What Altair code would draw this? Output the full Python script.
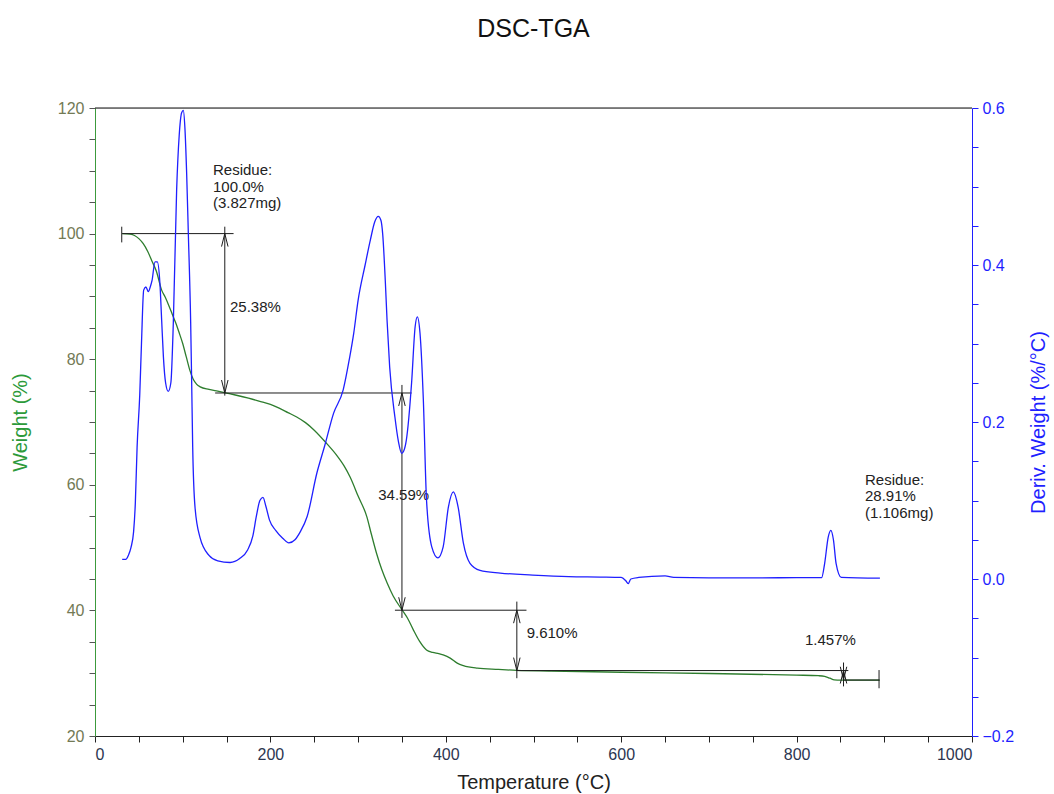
import altair as alt
import pandas as pd

# ---------------- TGA curve: weight (%) vs temperature (°C) ----------------
tga_temp = [31, 40, 45, 50, 55, 60, 65, 70, 76, 80, 84, 88, 92, 96, 100, 104, 108,
            112, 116, 120, 130, 140, 150, 160, 175, 190, 200, 210, 220, 230, 240,
            250, 264, 275, 284, 291, 300, 310, 315, 321, 327, 333, 340, 350, 357,
            363, 370, 378, 385, 392, 397, 405, 413, 420, 436, 460, 481, 520, 600,
            700, 800, 825, 832, 838, 843, 850, 895]
tga_weight = [100.0, 99.9, 99.7, 99.2, 98.4, 97.2, 95.6, 94.0, 91.0, 89.9, 88.6,
              87.2, 85.8, 84.2, 82.5, 80.4, 78.3, 76.8, 76.0, 75.6, 75.2, 74.9,
              74.6, 74.3, 73.8, 73.2, 72.8, 72.2, 71.5, 70.8, 69.9, 68.7, 66.6,
              64.8, 63.0, 61.2, 58.2, 54.9, 52.2, 49.1, 46.5, 44.4, 42.3, 40.1,
              38.6, 36.9, 35.1, 33.7, 33.3, 33.1, 32.9, 32.4, 31.6, 31.2, 30.8,
              30.6, 30.45, 30.35, 30.15, 29.95, 29.7, 29.6, 29.5, 29.2, 28.95,
              28.9, 28.91]

# ---------------- DTG curve: derivative weight (%/°C) ----------------
dtg_temp = [31, 35, 38, 41, 44, 46, 48, 51, 53, 55.5, 58, 60.8, 63, 65, 68.4, 71,
            74, 76, 78, 80.5, 83.5, 86.5, 89.3, 93.1, 96, 98.8, 100.7, 102.5,
            104.5, 106.4, 109.1, 110.2, 111.4, 114, 119.7, 130, 140, 154, 165, 174,
            180, 184, 188, 191.5, 195, 199, 206, 214, 221, 228, 234, 242, 253, 262,
            272, 283, 290, 295, 300, 308, 314, 319, 323, 326, 328, 331, 333, 336,
            342, 346, 349.7, 352, 355, 361, 365, 367.5, 370.6, 374.4, 378, 384,
            391, 397, 403, 408.6, 414, 420, 427.6, 439, 462, 499, 540, 576, 600,
            605, 608, 611, 620, 650, 660, 700, 760, 800, 828.5, 832, 836, 839, 842,
            845, 851, 895]
dtg_value = [0.025, 0.025, 0.030, 0.040, 0.060, 0.097, 0.168, 0.234, 0.300, 0.368,
             0.372, 0.366, 0.372, 0.380, 0.404, 0.404, 0.377, 0.330, 0.283, 0.250,
             0.239, 0.250, 0.326, 0.496, 0.565, 0.594, 0.597, 0.575, 0.517, 0.441,
             0.326, 0.253, 0.168, 0.092, 0.053, 0.030, 0.023, 0.021, 0.026, 0.037,
             0.055, 0.080, 0.100, 0.104, 0.092, 0.075, 0.062, 0.052, 0.046, 0.050,
             0.060, 0.080, 0.135, 0.170, 0.211, 0.241, 0.280, 0.313, 0.355, 0.400,
             0.432, 0.455, 0.462, 0.457, 0.440, 0.380, 0.330, 0.270, 0.206, 0.175,
             0.160, 0.163, 0.177, 0.250, 0.321, 0.334, 0.313, 0.228, 0.101, 0.041,
             0.027, 0.041, 0.092, 0.111, 0.092, 0.046, 0.020, 0.011, 0.0076, 0.005,
             0.003, 0.0025, 0.002, -0.002, -0.006, 0.0, 0.002, 0.004, 0.002, 0.0015,
             0.0015, 0.0017, 0.0017, 0.020, 0.053, 0.062, 0.050, 0.020, 0.002, 0.001]

# ---------------- step analysis annotations ----------------
# horizontal reference levels (weight %) and their temperature extents
h_level = [100.0, 74.62, 40.03, 30.42, 28.91]
h_start = [31, 137, 342, 481, 854]
h_end = [158, 361, 492, 859, 894]

# vertical markers: temperature, lower and upper weight
v_temp = [30.5, 148, 350, 481, 853.5, 894]
v_low = [98.6, 74.2, 38.8, 29.2, 27.9, 27.6]
v_high = [101.1, 101.1, 75.9, 41.4, 31.7, 30.5]

# weight-loss steps: temperature of the arrow, upper and lower levels
step_temp = [148, 350, 481, 853.5]
step_upper = [100.0, 74.62, 40.03, 30.42]
step_lower = [74.62, 40.03, 30.42, 28.96]

# labels: text, temperature, weight (first baseline)
label_text = ["Residue:\n100.0%\n(3.827mg)", "25.38%", "34.59%", "9.610%",
              "1.457%", "Residue:\n28.91%\n(1.106mg)"]
label_temp = [134.5, 153.9, 323.0, 492.2, 809.6, 878.0]
label_weight = [109.3, 87.57, 57.58, 35.56, 34.49, 59.97]

tga = pd.DataFrame({"T": tga_temp, "W": tga_weight})
dtg = pd.DataFrame({"T": dtg_temp, "D": dtg_value})
hlines = pd.DataFrame({"W": h_level, "T": h_start, "T2": h_end})
vlines = pd.DataFrame({"T": v_temp, "W": v_low, "W2": v_high})
arrow_up = pd.DataFrame({"T": step_temp, "W": [u - 1.03 for u in step_upper]})
arrow_down = pd.DataFrame({"T": step_temp, "W": [l + 1.03 for l in step_lower]})
labels = pd.DataFrame({"txt": label_text, "T": label_temp, "W": label_weight})
frame_top = pd.DataFrame({"W": [120]})

FONT = "Liberation Sans"
GREEN_LINE = "#2e7d2e"
BLUE = "#1f1fff"
INK = "#1c1c1c"

x_scale = alt.Scale(domain=[0, 1000], nice=False, zero=False)
x_axis = alt.Axis(
    title="Temperature (°C)", values=list(range(0, 1001, 50)), format="d",
    labelExpr="datum.value % 200 === 0 ? datum.label : ''",
    labelOverlap=False, grid=False, tickSize=6, tickColor="#222",
    domainColor="#222", labelColor="#2c3650", labelFontSize=16,
    labelPadding=4, titleFontSize=20, titleFontWeight="normal",
    titleColor="#222", titlePadding=10, labelFont=FONT, titleFont=FONT,
)
w_scale = alt.Scale(domain=[20, 120], nice=False, zero=False)
w_axis = alt.Axis(
    title="Weight (%)", values=list(range(20, 121, 5)),
    labelExpr="datum.value % 20 === 0 ? datum.label : ''",
    labelOverlap=False, grid=False, tickSize=6, tickColor="#555",
    domainColor="#3c9a3c", labelColor="#737a55", labelFontSize=16,
    labelPadding=5, titleFontSize=20, titleFontWeight="normal",
    titleColor="#2c9a3a", titlePadding=27, labelFont=FONT, titleFont=FONT,
)
d_scale = alt.Scale(domain=[-0.2, 0.6], nice=False, zero=False)
d_axis = alt.Axis(
    title="Deriv. Weight (%/°C)", orient="right",
    values=[round(-0.2 + 0.05 * i, 2) for i in range(17)],
    labelExpr="round(datum.value * 100) % 20 === 0 ? format(datum.value, '.1f') : ''",
    labelOverlap=False, grid=False, tickSize=6, tickColor=BLUE,
    domainColor=BLUE, labelColor=BLUE, labelFontSize=16, labelPadding=4,
    titleFontSize=20, titleFontWeight="normal", titleColor=BLUE,
    titleAngle=270, titlePadding=35, labelFont=FONT, titleFont=FONT,
)


def xenc(field="T"):
    return alt.X(f"{field}:Q", scale=x_scale, axis=x_axis)


def wenc(field="W"):
    return alt.Y(f"{field}:Q", scale=w_scale, axis=w_axis)


# top edge of the plot frame at the 120 % level
top_edge = alt.Chart(frame_top).mark_rule(color="#111", strokeWidth=1).encode(
    x=alt.value(0), x2=alt.value(877), y=wenc()
)
tga_line = alt.Chart(tga).mark_line(
    color=GREEN_LINE, strokeWidth=1.3, interpolate="monotone"
).encode(x=xenc(), y=wenc())
h_rules = alt.Chart(hlines).mark_rule(color=INK, strokeWidth=1).encode(
    x=xenc(), x2="T2:Q", y=wenc()
)
v_rules = alt.Chart(vlines).mark_rule(color=INK, strokeWidth=1).encode(
    x=xenc(), y=wenc(), y2="W2:Q"
)
up_heads = alt.Chart(arrow_up).mark_point(
    shape="M -0.5 1 L 0 -1 L 0.5 1", size=169, filled=False, color=INK,
    strokeWidth=1, opacity=1,
).encode(x=xenc(), y=wenc())
down_heads = alt.Chart(arrow_down).mark_point(
    shape="M -0.5 -1 L 0 1 L 0.5 -1", size=169, filled=False, color=INK,
    strokeWidth=1, opacity=1,
).encode(x=xenc(), y=wenc())
texts = alt.Chart(labels).mark_text(
    align="left", baseline="alphabetic", lineBreak="\n", lineHeight=16.5,
    fontSize=15, font=FONT, color="#222",
).encode(x=xenc(), y=wenc(), text="txt:N")

weight_group = alt.layer(top_edge, tga_line, h_rules, v_rules, up_heads,
                         down_heads, texts)

dtg_line = alt.Chart(dtg).mark_line(
    color=BLUE, strokeWidth=1.3, interpolate="monotone"
).encode(x=xenc(), y=alt.Y("D:Q", scale=d_scale, axis=d_axis))

chart = (
    alt.layer(weight_group, dtg_line)
    .resolve_scale(y="independent")
    .properties(
        width=877, height=628,
        autosize=alt.AutoSizeParams(type="none"),
        padding={"left": 95, "top": 108, "right": 82, "bottom": 58},
        title=alt.TitleParams(
            "DSC-TGA", fontSize=25, font=FONT, fontWeight="normal",
            color="#111", anchor="middle", frame="group", offset=58,
        ),
    )
    .configure_view(stroke=None)
    .configure(background="white", font=FONT)
)

chart.save("out.html", embed_options={"renderer": "svg", "actions": False})
